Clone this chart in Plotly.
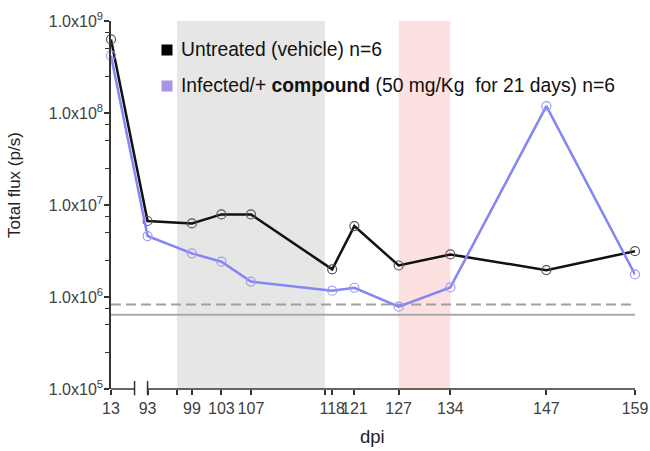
import plotly.graph_objects as go

# Bioluminescence follow-up (total flux, photons/s) per day post-infection
dpi = [13, 93, 99, 103, 107, 118, 121, 127, 134, 147, 159]
untreated = [6.3e8, 6.7e6, 6.3e6, 7.9e6, 7.9e6, 2.0e6, 5.9e6, 2.2e6, 2.9e6, 1.96e6, 3.15e6]
compound = [4.2e8, 4.6e6, 2.98e6, 2.42e6, 1.47e6, 1.17e6, 1.26e6, 7.85e5, 1.27e6, 1.19e8, 1.76e6]

# Detection thresholds
limit_dashed = 8.3e5
limit_solid = 6.4e5

# Highlighted windows (dpi)
gray_window = (97, 117)
pink_window = (127, 134)

# Axis tick values and labels
x_ticks = [13, 93, 97, 99, 103, 107, 117, 118, 121, 127, 134, 147, 159]
x_ticktext = ["13", "93", "", "99", "103", "107", "", "118", "121", "127", "134", "147", "159"]
y_ticks = [1e5, 1e6, 1e7, 1e8, 1e9]
y_ticktext = ["1.0x10<sup>%d</sup>" % e for e in range(5, 10)]

# Broken x axis: early time points are squeezed in front of the break
X_START = 88.05
BREAK_END = 91.24
X_END = 159


def axis_pos(d):
    return X_START if d < 93 else d


xs = [axis_pos(d) for d in dpi]

FONT = "Liberation Sans, Arial, sans-serif"
AXIS_COLOR = "#333333"

fig = go.Figure()

fig.add_trace(go.Scatter(
    x=xs, y=untreated, mode="lines+markers",
    line=dict(color="#111111", width=2.5),
    marker=dict(symbol="circle-open", size=9, color="#555555", line=dict(width=1.2)),
    showlegend=False, cliponaxis=False,
))
fig.add_trace(go.Scatter(
    x=xs, y=compound, mode="lines+markers",
    line=dict(color="#8585f5", width=2.5),
    marker=dict(symbol="circle-open", size=9, color="#9c9cf5", line=dict(width=1.2)),
    showlegend=False, cliponaxis=False,
))

shapes = [
    dict(type="rect", xref="x", yref="paper", x0=gray_window[0], x1=gray_window[1],
         y0=0, y1=1, fillcolor="#e6e6e6", line=dict(width=0), layer="below"),
    dict(type="rect", xref="x", yref="paper", x0=pink_window[0], x1=pink_window[1],
         y0=0, y1=1, fillcolor="#fde0e0", line=dict(width=0), layer="below"),
    dict(type="line", xref="x", yref="y", x0=X_START, x1=X_END, y0=limit_dashed, y1=limit_dashed,
         line=dict(color="#a0a0a0", width=2, dash="10px,5px"), layer="below"),
    dict(type="line", xref="x", yref="y", x0=X_START, x1=X_END, y0=limit_solid, y1=limit_solid,
         line=dict(color="#aaaaaa", width=2), layer="below"),
    # x axis drawn in two segments around the break
    dict(type="line", xref="x", yref="paper", x0=X_START, x1=BREAK_END, y0=0, y1=0,
         line=dict(color=AXIS_COLOR, width=1.5)),
    dict(type="line", xref="x", yref="paper", x0=93, x1=X_END, y0=0, y1=0,
         line=dict(color=AXIS_COLOR, width=1.5)),
    dict(type="line", xref="x", yref="paper", x0=BREAK_END, x1=BREAK_END, y0=-0.017, y1=0.022,
         line=dict(color=AXIS_COLOR, width=1.5)),
    dict(type="line", xref="x", yref="paper", x0=93, x1=93, y0=-0.017, y1=0.022,
         line=dict(color=AXIS_COLOR, width=1.5)),
]

# Legend keys
pw, ph = 524.0, 368.0
def px_x(p):
    return (p - 111) / pw
def px_y(p):
    return 1 - (p - 21) / ph

legend_items = [
    ("#000000", "Untreated (vehicle) n=6", 50),
    ("#a894e2", "Infected/+ <b>compound</b> (50 mg/Kg\u00a0 for 21 days) n=6", 86),
]
annotations = []
for color, label, yc in legend_items:
    shapes.append(dict(type="rect", xref="paper", yref="paper",
                       x0=px_x(161.5), x1=px_x(172.5), y0=px_y(yc + 5.5), y1=px_y(yc - 5.5),
                       fillcolor=color, line=dict(width=0)))
    annotations.append(dict(xref="paper", yref="paper", x=px_x(179), y=px_y(yc),
                            xanchor="left", yanchor="middle", showarrow=False,
                            text=label, font=dict(family=FONT, size=19.3, color="#111111")))

annotations.append(dict(xref="paper", yref="paper", x=px_x(14), y=px_y(185),
                        xanchor="center", yanchor="middle", showarrow=False, textangle=-90,
                        text="Total flux (p/s)", font=dict(family=FONT, size=17, color="#222222")))
annotations.append(dict(xref="paper", yref="paper", x=px_x(372), y=px_y(437),
                        xanchor="center", yanchor="middle", showarrow=False,
                        text="dpi", font=dict(family=FONT, size=18.5, color="#222222")))

minor_vals = []
for e in range(5, 9):
    for m in (2.5, 5, 7.5):
        minor_vals.append(m * 10 ** e)

fig.update_layout(
    width=650, height=451,
    margin=dict(l=111, r=15, t=21, b=62),
    plot_bgcolor="white", paper_bgcolor="white",
    font=dict(family=FONT, size=16, color="#404040"),
    shapes=shapes, annotations=annotations,
    xaxis=dict(
        range=[X_START, X_END], showgrid=False, zeroline=False, showline=False,
        automargin=False,
        tickmode="array", tickvals=[axis_pos(v) for v in x_ticks], ticktext=x_ticktext,
        ticks="outside", ticklen=5, tickwidth=1.5, tickcolor=AXIS_COLOR, tickangle=0,
        tickfont=dict(family=FONT, size=16, color="#404040"),
    ),
    yaxis=dict(
        type="log", range=[5, 9], showgrid=False, zeroline=False,
        showline=True, linecolor=AXIS_COLOR, linewidth=1.5, automargin=False,
        tickmode="array", tickvals=y_ticks, ticktext=y_ticktext,
        ticks="outside", ticklen=5, tickwidth=1.5, tickcolor=AXIS_COLOR,
        ticklabelstandoff=-2,
        tickfont=dict(family=FONT, size=16, color="#404040"),
        minor=dict(tickvals=minor_vals, ticks="outside", ticklen=4, tickwidth=1.2,
                   tickcolor=AXIS_COLOR, showgrid=False),
    ),
)

fig.write_html("out.html")
